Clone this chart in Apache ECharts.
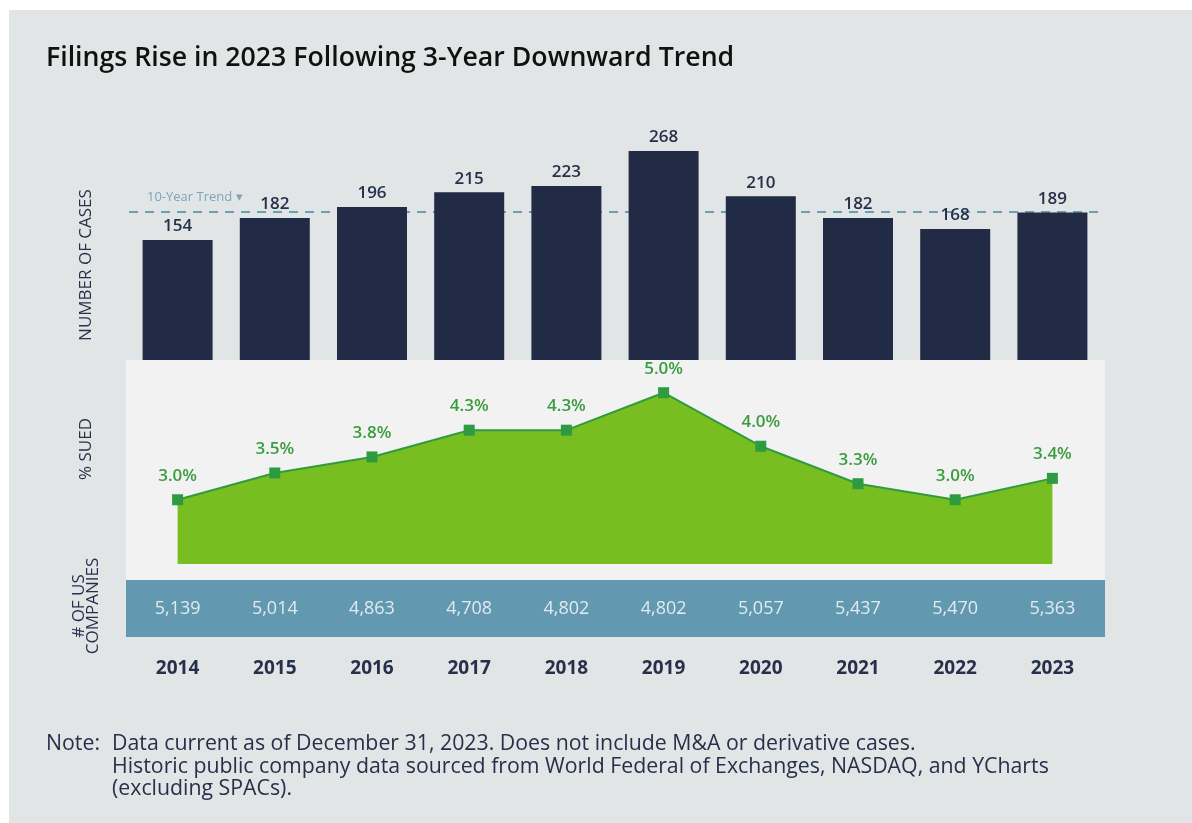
<!DOCTYPE html>
<html>
<head>
<meta charset="utf-8">
<script src="https://cdn.jsdelivr.net/npm/echarts@6/dist/echarts.min.js"></script>
<style>
html,body{margin:0;padding:0;background:#ffffff;}
#chart{width:1192px;height:823px;}
</style>
</head>
<body>
<div id="chart"></div>
<script>
// ---- Data ----
const years = ['2014','2015','2016','2017','2018','2019','2020','2021','2022','2023'];
const cases = [154, 182, 196, 215, 223, 268, 210, 182, 168, 189];
const pctSued = [3.0, 3.5, 3.8, 4.3, 4.3, 5.0, 4.0, 3.3, 3.0, 3.4];
const usCompanies = [5139, 5014, 4863, 4708, 4802, 4802, 5057, 5437, 5470, 5363];
const trendValue = 190;

const titleText = 'Filings Rise in 2023 Following 3-Year Downward Trend';
const noteLines = [
  'Data current as of December 31, 2023. Does not include M&A or derivative cases.',
  'Historic public company data sourced from World Federal of Exchanges, NASDAQ, and YCharts',
  '(excluding SPACs).'
];

// ---- Style ----
const FONT = '"Open Sans", "Noto Sans", sans-serif';
const DARK = '#212b45';
const TEXT = '#27304b';
const GREEN_FILL = '#78be20';
const GREEN_LINE = '#2f9b40';
const GREEN_TEXT = '#3a9c3e';
const BAND = '#6399b0';

const chart = echarts.init(document.getElementById('chart'), null, {renderer: 'canvas'});

const gridL = 129, gridW = 972;

const option = {
  backgroundColor: '#ffffff',
  animation: false,
  textStyle: {fontFamily: FONT},
  title: {
    text: titleText,
    left: 41, top: 40,
    textStyle: {fontFamily: FONT, fontSize: 26.7, fontWeight: 600, color: '#111111'}
  },
  graphic: [
    {type: 'rect', z: -10, shape: {x: 9, y: 10, width: 1183, height: 813}, style: {fill: '#e1e5e6'}},
    {type: 'rect', z: -9, shape: {x: 126, y: 360, width: 979, height: 220}, style: {fill: '#f2f2f2'}},
    {type: 'rect', z: -9, shape: {x: 126, y: 580, width: 979, height: 57}, style: {fill: BAND}},
    {type: 'text', z: 50, x: 86, y: 265, rotation: Math.PI / 2,
      style: {text: 'NUMBER OF CASES', fontFamily: FONT, fontSize: 17, fill: TEXT, textAlign: 'center', textVerticalAlign: 'middle'}},
    {type: 'text', z: 50, x: 86, y: 449, rotation: Math.PI / 2,
      style: {text: '% SUED', fontFamily: FONT, fontSize: 17, fill: TEXT, textAlign: 'center', textVerticalAlign: 'middle'}},
    {type: 'text', z: 50, x: 86, y: 606, rotation: Math.PI / 2,
      style: {text: '# OF US\nCOMPANIES', fontFamily: FONT, fontSize: 17, lineHeight: 14, fill: TEXT, textAlign: 'center', textVerticalAlign: 'middle'}},
    {type: 'text', z: 50, x: 46, y: 744,
      style: {text: 'Note:', fontFamily: FONT, fontSize: 21.3, fill: TEXT, textVerticalAlign: 'middle'}},
    {type: 'text', z: 50, x: 112, y: 733,
      style: {text: noteLines.join('\n'), fontFamily: FONT, fontSize: 21.3, lineHeight: 22.5, fill: TEXT, textVerticalAlign: 'top'}}
  ],
  grid: [
    {left: gridL, width: gridW, top: 126, height: 234},
    {left: gridL, width: gridW, top: 382, height: 182},
    {left: gridL, width: gridW, top: 580, height: 57}
  ],
  xAxis: [
    {type: 'category', gridIndex: 0, data: years, axisLine: {show: false}, axisTick: {show: false}, axisLabel: {show: false}},
    {type: 'category', gridIndex: 1, data: years, axisLine: {show: false}, axisTick: {show: false}, axisLabel: {show: false}},
    {type: 'category', gridIndex: 2, data: years, axisLine: {show: false}, axisTick: {show: false},
      axisLabel: {show: true, margin: 22, fontFamily: FONT, fontSize: 19, fontWeight: 'bold', color: TEXT}}
  ],
  yAxis: [
    {type: 'value', gridIndex: 0, min: 0, max: 300, show: false, splitLine: {show: false}},
    {type: 'value', gridIndex: 1, min: 1.8, max: 5.2, show: false, splitLine: {show: false}},
    {type: 'value', gridIndex: 2, min: 0, max: 1, show: false, splitLine: {show: false}}
  ],
  series: [
    {
      type: 'bar', xAxisIndex: 0, yAxisIndex: 0, data: cases, barWidth: 70,
      itemStyle: {color: DARK},
      label: {show: true, position: 'top', distance: 5, fontFamily: FONT, fontSize: 17, fontWeight: 600, color: TEXT},
      markLine: {
        silent: true, symbol: 'none', z: 1,
        lineStyle: {color: '#6a9fb6', width: 2, type: [9, 7]},
        label: {show: true, position: 'insideStartTop', formatter: '10-Year Trend \u25BE', distance: [18, 8],
          fontFamily: FONT, fontSize: 13, color: '#78a7bc'},
        data: [{yAxis: trendValue}]
      }
    },
    {
      type: 'line', xAxisIndex: 1, yAxisIndex: 1, data: pctSued,
      symbol: 'rect', symbolSize: 11, showAllSymbol: true,
      itemStyle: {color: GREEN_LINE},
      lineStyle: {color: GREEN_LINE, width: 2},
      areaStyle: {color: GREEN_FILL, opacity: 1, origin: 'start'},
      label: {show: true, position: 'top', distance: 10, fontFamily: FONT, fontSize: 17, fontWeight: 600, color: GREEN_TEXT,
        formatter: p => p.value.toFixed(1) + '%'}
    },
    {
      type: 'scatter', xAxisIndex: 2, yAxisIndex: 2,
      data: usCompanies.map((v, i) => [i, 0.5, v]),
      symbolSize: 1, itemStyle: {color: 'rgba(0,0,0,0)'},
      label: {show: true, position: 'inside', fontFamily: FONT, fontSize: 18, fontWeight: 500, color: '#ffffff',
        formatter: p => p.value[2].toLocaleString('en-US')}
    }
  ]
};
chart.setOption(option);
</script>
</body>
</html>
